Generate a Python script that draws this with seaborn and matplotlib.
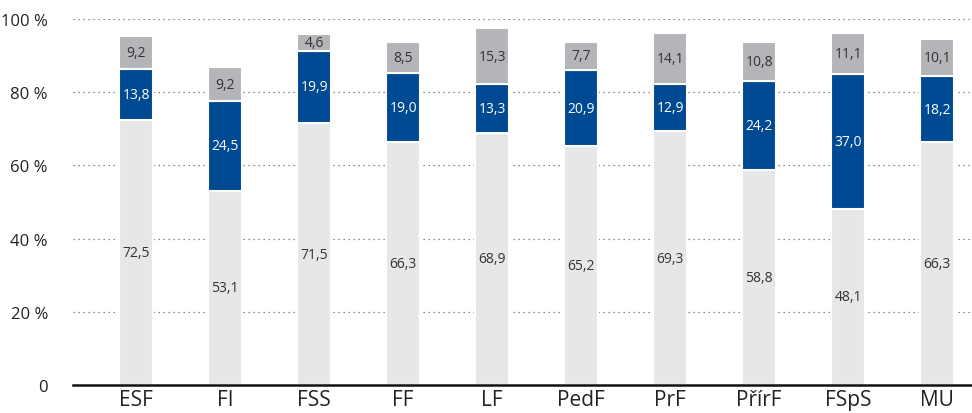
import numpy as np
import pandas as pd
import seaborn as sns
import matplotlib.pyplot as plt

faculties = ["ESF", "FI", "FSS", "FF", "LF", "PedF", "PrF", "PřírF", "FSpS", "MU"]
bottom_vals = [72.5, 53.1, 71.5, 66.3, 68.9, 65.2, 69.3, 58.8, 48.1, 66.3]
middle_vals = [13.8, 24.5, 19.9, 19.0, 13.3, 20.9, 12.9, 24.2, 37.0, 18.2]
top_vals = [9.2, 9.2, 4.6, 8.5, 15.3, 7.7, 14.1, 10.8, 11.1, 10.1]

c_light = "#e6e7e9"
c_blue = "#004a93"
c_grey = "#b4b5b8"

sns.set_style("white")
plt.rcParams["font.family"] = ["Open Sans", "DejaVu Sans"]

df = pd.DataFrame({"fac": faculties, "bottom": bottom_vals,
                   "middle": middle_vals, "top": top_vals})

fig = plt.figure(figsize=(9.72, 4.14), dpi=100)
ax = fig.add_axes([0.075, 0.0676, 0.925, 0.884])

w = 0.38
kw = dict(width=w, saturation=1, edgecolor="white", linewidth=1.5, ax=ax, zorder=2)
sns.barplot(data=df, x="fac", y="bottom", color=c_light, **kw)
sns.barplot(data=df, x="fac", y="middle", bottom=df["bottom"], color=c_blue, **kw)
sns.barplot(data=df, x="fac", y="top", bottom=df["bottom"] + df["middle"], color=c_grey, **kw)

def fmt(v):
    return f"{v:.1f}".replace(".", ",")

for i in range(len(faculties)):
    b, m, t = bottom_vals[i], middle_vals[i], top_vals[i]
    ax.text(i, b / 2, fmt(b), ha="center", va="center", fontsize=10, color="#333333", zorder=3)
    ax.text(i, b + m / 2, fmt(m), ha="center", va="center", fontsize=10, color="white", zorder=3)
    ax.text(i, b + m + t / 2, fmt(t), ha="center", va="center", fontsize=10, color="#333333", zorder=3)

ax.set_ylim(0, 100)
ax.set_xlim(-0.71, 9.39)
ax.set_yticks([0, 20, 40, 60, 80, 100])
ax.set_yticklabels(["0", "20 %", "40 %", "60 %", "80 %", "100 %"], fontsize=12, color="#222222")
ax.tick_params(axis="x", labelsize=15, length=0, pad=3, colors="#222222")
ax.tick_params(axis="y", length=0, pad=18)
ax.set_xlabel("")
ax.set_ylabel("")

for y in [20, 40, 60, 80, 100]:
    ax.axhline(y, color="#666666", linestyle=(0, (1, 3)), linewidth=0.9, zorder=1)

for s in ["top", "right", "left"]:
    ax.spines[s].set_visible(False)
ax.spines["bottom"].set_color("#111111")
ax.spines["bottom"].set_linewidth(1.8)
ax.spines["bottom"].set_zorder(4)

fig.savefig("out.png", dpi=100)
